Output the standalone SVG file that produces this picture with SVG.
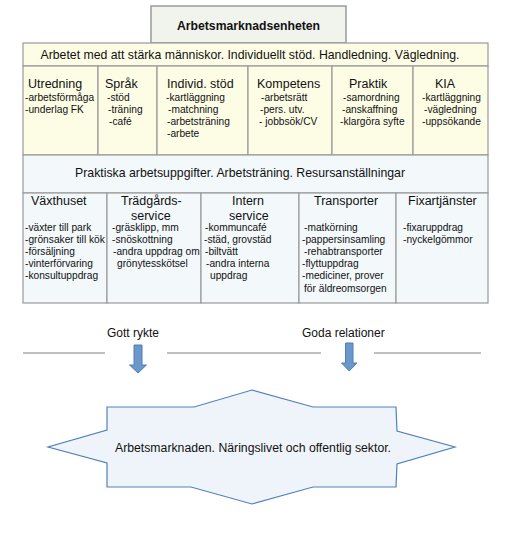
<svg xmlns="http://www.w3.org/2000/svg" width="531" height="536" viewBox="0 0 531 536">
<style>
text{font-family:"Liberation Sans",Arial,sans-serif;fill:#111}
.h{font-size:12.5px}
.i{font-size:10.2px}
.cell{stroke:#9a9a9a;stroke-width:1.2}
.y{fill:#fdfde6}
.b{fill:#f3f8fb}
.sep{stroke:#aaaaaa;stroke-width:1.5}
.arr{fill:#6c97cb;stroke:#4f7fb5;stroke-width:1}
</style>
<rect width="531" height="536" fill="#ffffff"/>
<g id="title">
<rect x="151" y="6" width="195" height="37" fill="#f1f3ed" stroke="#9a9a9a" stroke-width="1.5"/>
<text x="248.5" y="30" text-anchor="middle" font-size="12px" font-weight="bold" textLength="143" lengthAdjust="spacingAndGlyphs">Arbetsmarknadsenheten</text>
</g>
<g id="individ-section">
<rect class="cell y" x="23" y="43" width="465" height="23"/>
<text x="250" y="59" font-size="13px" text-anchor="middle" textLength="419" lengthAdjust="spacingAndGlyphs">Arbetet med att stärka människor. Individuellt stöd. Handledning. Vägledning.</text>
</g>
<g id="utredning">
<rect class="cell y" x="23" y="66" width="75" height="89"/>
<text class="h" x="28" y="88">Utredning</text>
<text class="i" x="25" y="101">-arbetsförmåga</text>
<text class="i" x="25" y="113">-underlag FK</text>
</g>
<g id="sprak">
<rect class="cell y" x="98" y="66" width="59" height="89"/>
<text class="h" x="105" y="88">Språk</text>
<text class="i" x="107" y="101">-stöd</text>
<text class="i" x="108" y="113">-träning</text>
<text class="i" x="109" y="125">-café</text>
</g>
<g id="individ-stod">
<rect class="cell y" x="157" y="66" width="91" height="89"/>
<text class="h" x="167" y="88">Individ. stöd</text>
<text class="i" x="166" y="101">-kartläggning</text>
<text class="i" x="168" y="113">-matchning</text>
<text class="i" x="167" y="125">-arbetsträning</text>
<text class="i" x="167" y="137">-arbete</text>
</g>
<g id="kompetens">
<rect class="cell y" x="248" y="66" width="84" height="89"/>
<text class="h" x="257" y="88">Kompetens</text>
<text class="i" x="261" y="101">-arbetsrätt</text>
<text class="i" x="260" y="113">-pers. utv.</text>
<text class="i" x="259" y="125">- jobbsök/CV</text>
</g>
<g id="praktik">
<rect class="cell y" x="332" y="66" width="81" height="89"/>
<text class="h" x="349" y="88">Praktik</text>
<text class="i" x="343" y="101">-samordning</text>
<text class="i" x="342" y="113">-anskaffning</text>
<text class="i" x="340" y="125">-klargöra syfte</text>
</g>
<g id="kia">
<rect class="cell y" x="413" y="66" width="75" height="89"/>
<text class="h" x="435" y="88">KIA</text>
<text class="i" x="422" y="101">-kartläggning</text>
<text class="i" x="424" y="113">-vägledning</text>
<text class="i" x="422" y="125">-uppsökande</text>
</g>
<g id="praktiska-section">
<rect class="cell b" x="23" y="155" width="465" height="38"/>
<text x="240" y="177" font-size="13px" text-anchor="middle" textLength="330" lengthAdjust="spacingAndGlyphs">Praktiska arbetsuppgifter. Arbetsträning. Resursanställningar</text>
</g>
<g id="vaxthuset">
<rect class="cell b" x="23" y="193" width="84" height="110"/>
<text class="h" x="31" y="205">Växthuset</text>
<text class="i" x="25" y="231">-växter till park</text>
<text class="i" x="25" y="243">-grönsaker till kök</text>
<text class="i" x="25" y="255">-försäljning</text>
<text class="i" x="25" y="267">-vinterförvaring</text>
<text class="i" x="25" y="279">-konsultuppdrag</text>
</g>
<g id="tradgard">
<rect class="cell b" x="107" y="193" width="94" height="110"/>
<text class="h" x="121" y="205">Trädgårds-</text>
<text class="h" x="131" y="220">service</text>
<text class="i" x="112" y="231">-gräsklipp, mm</text>
<text class="i" x="112" y="243">-snöskottning</text>
<text class="i" x="113" y="255">-andra uppdrag om</text>
<text class="i" x="117" y="267">grönytesskötsel</text>
</g>
<g id="intern">
<rect class="cell b" x="201" y="193" width="98" height="110"/>
<text class="h" x="232" y="205">Intern</text>
<text class="h" x="229" y="220">service</text>
<text class="i" x="205" y="231">-kommuncafé</text>
<text class="i" x="204" y="243">-städ, grovstäd</text>
<text class="i" x="205" y="255">-biltvätt</text>
<text class="i" x="206" y="267">-andra interna</text>
<text class="i" x="210" y="279">uppdrag</text>
</g>
<g id="transporter">
<rect class="cell b" x="299" y="193" width="97" height="110"/>
<text class="h" x="314" y="205">Transporter</text>
<text class="i" x="304" y="231">-matkörning</text>
<text class="i" x="302" y="243">-pappersinsamling</text>
<text class="i" x="304" y="255">-rehabtransporter</text>
<text class="i" x="302" y="267">-flyttuppdrag</text>
<text class="i" x="302" y="279">-mediciner, prover</text>
<text class="i" x="304" y="292">för äldreomsorgen</text>
</g>
<g id="fixartjanster">
<rect class="cell b" x="396" y="193" width="92" height="110"/>
<text class="h" x="408" y="205">Fixartjänster</text>
<text class="i" x="403" y="231">-fixaruppdrag</text>
<text class="i" x="403" y="243">-nyckelgömmor</text>
</g>
<g id="connectors">
<line class="sep" x1="23" y1="353" x2="105" y2="353"/>
<line class="sep" x1="167" y1="353" x2="321" y2="353"/>
<line class="sep" x1="374" y1="353" x2="481" y2="353"/>
<polygon class="arr" points="134,345 142,345 142,365 146.5,365 138,373 129.5,365 134,365"/>
<polygon class="arr" points="345.5,343 353,343 353,363 357,363 349.2,371 341.5,363 345.5,363"/>
<text x="107" y="337" font-size="12px">Gott rykte</text>
<text x="302" y="337" font-size="12px">Goda relationer</text>
</g>
<g id="arbetsmarknaden">
<polygon points="252,390 313,407 396,407 397,431 455,447 397,464 396,487 313,487 252,504 191,487 107,487 107,463 48,447 107,430 107,407 194,407" fill="#eff4fa" stroke="#4f81bd" stroke-width="1.2"/>
<text x="253" y="452" font-size="12px" text-anchor="middle" textLength="276" lengthAdjust="spacingAndGlyphs">Arbetsmarknaden. Näringslivet och offentlig sektor.</text>
</g>
</svg>
